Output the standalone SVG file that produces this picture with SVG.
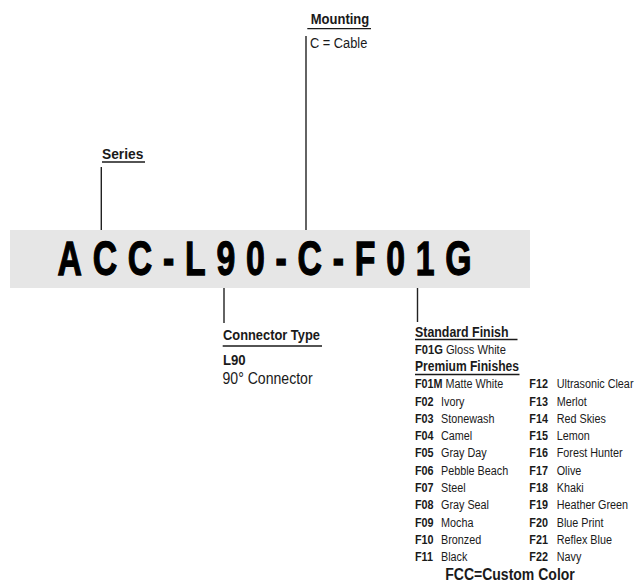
<svg xmlns="http://www.w3.org/2000/svg" width="636" height="584" viewBox="0 0 636 584">
<style>
text{font-family:"Liberation Sans",Arial,sans-serif;fill:#1a1a1a}
.h{font-weight:bold;font-size:15.5px}
.b{font-weight:bold}
.r{font-size:15.5px}
.li{font-size:13.5px}
.ul{stroke:#1a1a1a;stroke-width:1.4}
.conn line{stroke:#222;stroke-width:1.4}
</style>
<rect width="636" height="584" fill="#fff"/>
<g id="connectors" class="conn">
<line x1="101.3" y1="167" x2="101.3" y2="230"/>
<line x1="306" y1="36" x2="306" y2="230"/>
<line x1="224" y1="288" x2="224" y2="323"/>
<line x1="417.5" y1="288" x2="417.5" y2="322"/>
</g>
<g id="part-number">
<rect x="10" y="230" width="520" height="58" fill="#e6e6e6"/>
<text transform="translate(57.5,275) scale(0.69,1)" style="font-size:49px;font-weight:bold;letter-spacing:15.6px;fill:#000;stroke:#000;stroke-width:1.3px">ACC-L90-C-F01G</text>
</g>
<g id="series">
<text transform="translate(102,159) scale(0.89,1)" class="h">Series</text>
<line x1="102" y1="162" x2="145" y2="162" class="ul"/>
</g>
<g id="mounting">
<text transform="translate(340,24) scale(0.84,1)" class="h" text-anchor="middle">Mounting</text>
<line x1="307.3" y1="28.6" x2="371" y2="28.6" class="ul"/>
<text transform="translate(310,48.3) scale(0.827,1)" class="r">C = Cable</text>
</g>
<g id="connector-type">
<text transform="translate(223,340) scale(0.83,1)" class="h">Connector Type</text>
<line x1="222.7" y1="346" x2="322" y2="346" class="ul"/>
<text transform="translate(223,365) scale(0.85,1)" class="b" style="font-size:15.5px">L90</text>
<text transform="translate(222.5,384.3) scale(0.88,1)" style="font-size:16px">90° Connector</text>
</g>
<g id="finish">
<text transform="translate(415,336.7) scale(0.8,1)" class="h">Standard Finish</text>
<line x1="415" y1="339.5" x2="517.5" y2="339.5" class="ul"/>
<text transform="translate(415,354) scale(0.825,1)" class="li"><tspan class="b">F01G</tspan> Gloss White</text>
<text transform="translate(415,370.7) scale(0.78,1)" class="h">Premium Finishes</text>
<line x1="415" y1="374.5" x2="519.5" y2="374.5" class="ul"/>
<text transform="translate(415,388.3) scale(0.8,1)" class="li"><tspan class="b">F01M</tspan> Matte White</text>
<text transform="translate(415,405.6) scale(0.8,1)" class="li"><tspan class="b">F02</tspan><tspan x="32.5">Ivory</tspan></text>
<text transform="translate(415,422.8) scale(0.8,1)" class="li"><tspan class="b">F03</tspan><tspan x="32.5">Stonewash</tspan></text>
<text transform="translate(415,440.1) scale(0.8,1)" class="li"><tspan class="b">F04</tspan><tspan x="32.5">Camel</tspan></text>
<text transform="translate(415,457.4) scale(0.8,1)" class="li"><tspan class="b">F05</tspan><tspan x="32.5">Gray Day</tspan></text>
<text transform="translate(415,474.7) scale(0.8,1)" class="li"><tspan class="b">F06</tspan><tspan x="32.5">Pebble Beach</tspan></text>
<text transform="translate(415,491.9) scale(0.8,1)" class="li"><tspan class="b">F07</tspan><tspan x="32.5">Steel</tspan></text>
<text transform="translate(415,509.2) scale(0.8,1)" class="li"><tspan class="b">F08</tspan><tspan x="32.5">Gray Seal</tspan></text>
<text transform="translate(415,526.5) scale(0.8,1)" class="li"><tspan class="b">F09</tspan><tspan x="32.5">Mocha</tspan></text>
<text transform="translate(415,543.7) scale(0.8,1)" class="li"><tspan class="b">F10</tspan><tspan x="32.5">Bronzed</tspan></text>
<text transform="translate(415,561) scale(0.8,1)" class="li"><tspan class="b">F11</tspan><tspan x="32.5">Black</tspan></text>
<text transform="translate(529.3,388.3) scale(0.8,1)" class="li"><tspan class="b">F12</tspan><tspan x="34.25">Ultrasonic Clear</tspan></text>
<text transform="translate(529.3,405.6) scale(0.8,1)" class="li"><tspan class="b">F13</tspan><tspan x="34.25">Merlot</tspan></text>
<text transform="translate(529.3,422.8) scale(0.8,1)" class="li"><tspan class="b">F14</tspan><tspan x="34.25">Red Skies</tspan></text>
<text transform="translate(529.3,440.1) scale(0.8,1)" class="li"><tspan class="b">F15</tspan><tspan x="34.25">Lemon</tspan></text>
<text transform="translate(529.3,457.4) scale(0.8,1)" class="li"><tspan class="b">F16</tspan><tspan x="34.25">Forest Hunter</tspan></text>
<text transform="translate(529.3,474.7) scale(0.8,1)" class="li"><tspan class="b">F17</tspan><tspan x="34.25">Olive</tspan></text>
<text transform="translate(529.3,491.9) scale(0.8,1)" class="li"><tspan class="b">F18</tspan><tspan x="34.25">Khaki</tspan></text>
<text transform="translate(529.3,509.2) scale(0.8,1)" class="li"><tspan class="b">F19</tspan><tspan x="34.25">Heather Green</tspan></text>
<text transform="translate(529.3,526.5) scale(0.8,1)" class="li"><tspan class="b">F20</tspan><tspan x="34.25">Blue Print</tspan></text>
<text transform="translate(529.3,543.7) scale(0.8,1)" class="li"><tspan class="b">F21</tspan><tspan x="34.25">Reflex Blue</tspan></text>
<text transform="translate(529.3,561) scale(0.8,1)" class="li"><tspan class="b">F22</tspan><tspan x="34.25">Navy</tspan></text>
<text transform="translate(510,580) scale(0.85,1)" class="b" style="font-size:16.5px" text-anchor="middle">FCC=Custom Color</text>
</g>
</svg>
